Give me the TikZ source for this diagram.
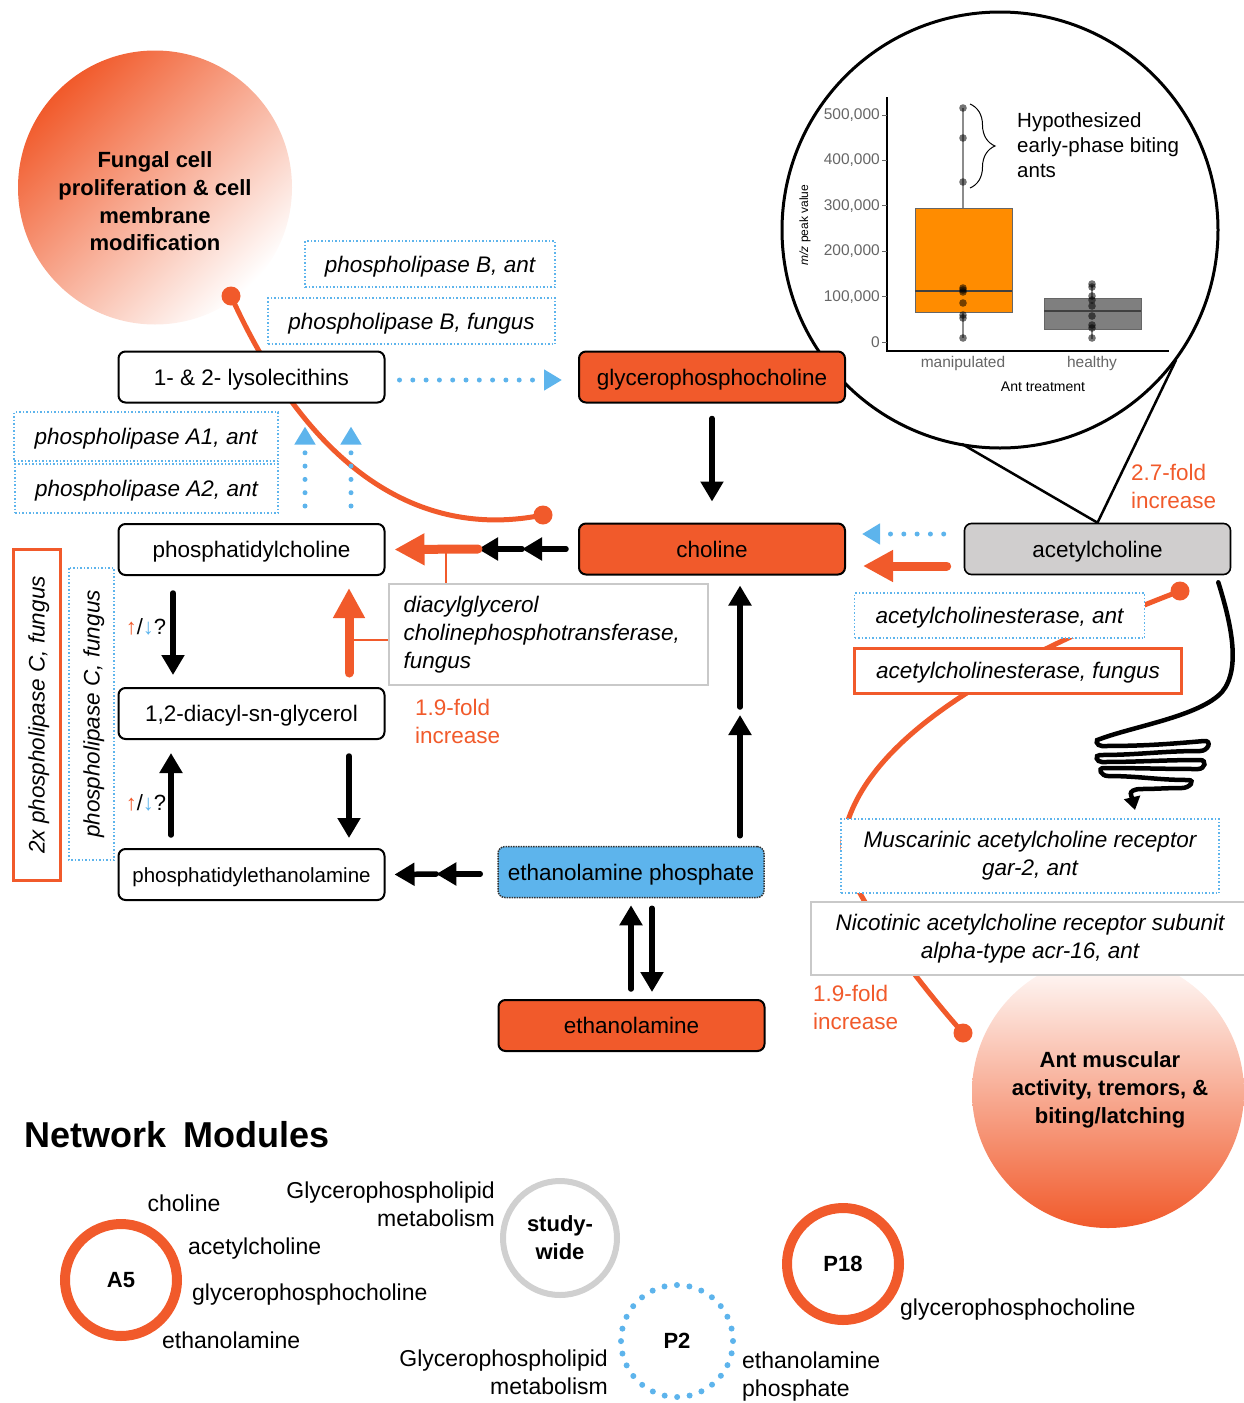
\documentclass[tikz,border=0pt]{standalone}
\usepackage{fontspec}
\setmainfont{Liberation Sans}
\usetikzlibrary{arrows.meta,calc,backgrounds,decorations.pathreplacing}

\definecolor{orng}{HTML}{F15A2B}
\definecolor{skyb}{HTML}{5DB4EC}
\definecolor{achgray}{HTML}{D0CECE}
\definecolor{framegray}{HTML}{C9C9C9}
\definecolor{ringgray}{HTML}{D0D0D0}
\definecolor{boxorange}{HTML}{FF8C00}
\definecolor{boxgrey}{HTML}{7F7F7F}
\definecolor{ticktext}{HTML}{666666}
\newcommand\fsz[2]{\fontsize{#1}{#2}\selectfont}

\tikzset{
  oneline/.style={text height=16pt, text depth=0pt},
  compound/.style={draw=black, line width=2pt, rounded corners=7pt, fill=white, oneline,
    minimum width=266pt, minimum height=51pt, inner sep=0pt, font=\fsz{22.5}{27}},
  hot/.style={compound, fill=orng},
  enzblue/.style={draw=skyb, line width=1.5pt, dash pattern=on 1.5pt off 2pt, fill=white,
    inner sep=0pt, font=\fsz{22.5}{28}\itshape},
  enzred/.style={draw=orng, line width=3pt, fill=white, inner sep=0pt, font=\fsz{22.5}{28}\itshape},
  enzgray/.style={draw=framegray, line width=2.5pt, fill=white, inner sep=0pt, font=\fsz{22.5}{28}\itshape},
  blkarrow/.style={draw=black, line width=5.5pt, line cap=round, -{Triangle[length=20pt,width=22pt]}},
  hotarrow/.style={draw=orng, line width=9pt, line cap=round, -{Triangle[length=30pt,width=30pt]}},
  dotarrow/.style={draw=skyb, line width=5pt, line cap=round, dash pattern=on 0pt off 13.3pt, -{Triangle[length=18pt,width=20pt]}},
  inhib/.style={draw=orng, line width=5pt},
  ball/.style={circle, fill=orng, minimum size=19pt, inner sep=0pt},
  foldnote/.style={text=orng, font=\fsz{22.5}{28}, align=left, anchor=west, inner sep=0pt},
  member/.style={font=\fsz{23}{28}, inner sep=0pt},
  module/.style={circle, minimum size=112pt, inner sep=0pt, font=\bfseries\fsz{22}{28}, align=center},
  ticklab/.style={text=ticktext, font=\fsz{15.5}{18}, anchor=east, inner sep=0pt},
  plotpt/.style={fill=black, fill opacity=0.55},
  squig/.style={draw=black, line width=4.5pt, line cap=round, -{Triangle[length=13pt,width=16pt]}},
  updown/.style={font=\fsz{22}{26}, inner sep=0pt},
}

\begin{document}
\begin{tikzpicture}[x=1pt,y=-1pt]
\useasboundingbox (0,0) rectangle (1244,1403);

% ---------- metabolites ----------
\node[compound] (lyso) at (251.5,377) {1- \& 2- lysolecithins};
\node[hot] (gpc) at (712,377) {glycerophosphocholine};
\node[compound] (pc) at (251.5,549.5) {phosphatidylcholine};
\node[hot] (cho) at (712,549) {choline};
\node[compound, fill=achgray, line width=1.6pt] (ach) at (1097.5,549) {acetylcholine};
\node[compound] (dag) at (251.5,713.5) {1,2-diacyl-sn-glycerol};
\node[compound, font=\fsz{20.5}{24}, text height=15pt] (pe) at (251.5,874.5) {phosphatidylethanolamine};
\node[compound, fill=skyb, draw=black!80, line width=1.5pt, dash pattern=on 1.5pt off 1pt] (ep) at (631,872) {ethanolamine phosphate};
\node[hot] (eth) at (631.5,1025.5) {ethanolamine};

% ---------- enzymes ----------
\node[enzblue, oneline, minimum width=250pt, minimum height=46pt] (plbant) at (430,264) {phospholipase B, ant};
\node[enzblue, oneline, minimum width=287pt, minimum height=46pt] (plbfun) at (411.5,321) {phospholipase B, fungus};
\node[enzblue, oneline, minimum width=264pt, minimum height=49pt] (pla1) at (146,436.5) {phospholipase A1, ant};
\node[enzblue, oneline, minimum width=263pt, minimum height=49pt] (pla2) at (146.5,488.5) {phospholipase A2, ant};
\node[enzred, oneline, rotate=90, minimum width=331pt, minimum height=47pt] (plc2) at (36.5,715) {2x phospholipase C, fungus};
\node[enzblue, oneline, rotate=90, minimum width=292pt, minimum height=45pt] (plc) at (91.5,714) {phospholipase C, fungus};
\node[enzgray, minimum width=319pt, minimum height=101pt, text width=290pt, align=left] (dcpt) at (548.5,634.5) {diacylglycerol\\cholinephosphotransferase,\\fungus};
\node[enzblue, oneline, minimum width=290pt, minimum height=45pt] (acheant) at (999.5,615.5) {acetylcholinesterase, ant};
\node[enzred, oneline, minimum width=327pt, minimum height=45pt] (achefun) at (1018,670.5) {acetylcholinesterase, fungus};
\node[enzblue, minimum width=378pt, minimum height=74pt, align=center] (musc) at (1030,856) {Muscarinic acetylcholine receptor\\gar-2, ant};
\node[enzgray, minimum width=438pt, minimum height=73pt, align=center] (nic) at (1030,938.5) {Nicotinic acetylcholine receptor subunit\\alpha-type acr-16, ant};

% ---------- inhibition end points ----------
\node[ball] (k1) at (231,296) {};
\node[ball] (k2) at (543,515) {};
\node[ball] (k3) at (1180,591) {};
\node[ball] (k4) at (963,1033) {};

% ---------- phenotype bubbles, zoom lens and long links ----------
\coordinate (lensL) at (962,444);
\coordinate (lensR) at (1176,360);
\begin{scope}[on background layer]
  \shade[top color=orng, middle color=orng!55, bottom color=white, shading angle=45] (155,187.5) circle (137pt);
  \shade[top color=white, middle color=orng!35, bottom color=orng] (1108,1092) circle (136pt);
  \draw[line width=3pt, fill=white] (1000,230) circle (218pt);
  \draw[line width=2.5pt] (lensL) -- (ach.north);
  \draw[line width=2.5pt] (lensR) -- (ach.north);
  \draw[inhib] (k1.center) .. controls (310,470) and (420,540) .. (k2.center);
  \draw[inhib] (k3.center) .. controls (1000,660) and (860,740) .. (843,840)
                           .. controls (837,880) and (923,988) .. (k4.center);
\end{scope}

\node[font=\bfseries\fsz{22}{27.7}, align=center] (fungal) at (155,201.5)
  {Fungal cell\\proliferation \& cell\\membrane\\modification};
\node[font=\bfseries\fsz{22}{28}, align=center] (antmus) at (1110,1090)
  {Ant muscular\\activity, tremors, \&\\biting/latching};

% ---------- reactions ----------
\draw[blkarrow] ($(gpc.south)+(0,15)$) -- ($(cho.north)+(0,-21)$);
\draw[dotarrow] ($(lyso.east)+(14,3)$) -- ($(gpc.west)+(-16,3)$);
\draw[dotarrow] ($(pc.north)+(53.5,-17)$) -- ($(lyso.south)+(53.5,23)$);
\draw[dotarrow] ($(pc.north)+(99.5,-17)$) -- ($(lyso.south)+(99.5,23)$);

\coordinate (c1) at ($(cho.west)+(-12,0)$);
\coordinate (c2) at ($(cho.west)+(-56,0)$);
\coordinate (c3) at ($(cho.west)+(-100,0)$);
\draw[blkarrow] (c1) -- (c2);
\draw[blkarrow] (c2) -- (c3);
\draw[hotarrow] (c3) -- ($(pc.east)+(9,0)$);

\draw[hotarrow] ($(dag.north)+(97.5,-14)$) -- ($(pc.south)+(97.5,12)$);
\coordinate (dcj) at (446,549);
\draw[orng, line width=1.3pt] (dcj) -- (dcj |- dcpt.north);
\draw[orng, line width=1.3pt] (349,640) -- ($(dcpt.west)+(0,5.5)$);

\draw[blkarrow] ($(pc.south)+(-78.5,17)$) -- ($(dag.north)+(-78.5,-12)$);
\draw[blkarrow] ($(pe.north)+(-80.5,-13)$) -- ($(dag.south)+(-80.5,13)$);
\draw[blkarrow] ($(dag.south)+(97.5,16)$) -- ($(pe.north)+(97.5,-10)$);

\node[updown] (q1) at (146,627) {\textcolor{orng}{↑}/\textcolor{skyb}{↓}?};
\node[updown] (q2) at (146,803) {\textcolor{orng}{↑}/\textcolor{skyb}{↓}?};

\coordinate (e1) at ($(ep.west)+(-17,2)$);
\coordinate (e2) at ($(ep.west)+(-61,2)$);
\draw[blkarrow] (e1) -- (e2);
\draw[blkarrow] (e2) -- ($(pe.east)+(9,0)$);

\draw[blkarrow] ($(eth.north)+(-0.5,-10)$) -- ($(ep.south)+(0,7)$);
\draw[blkarrow] ($(ep.south)+(21,10)$) -- ($(eth.north)+(20.5,-7)$);

\coordinate (mid) at (740,711);
\draw[blkarrow] ($(ep.north)+(109,-10)$) -- ($(mid)+(0,4)$);
\draw[blkarrow] ($(mid)+(0,-4)$) -- ($(cho.south)+(28,10)$);

\draw[dotarrow] ($(ach.west)+(-20,-15)$) -- ($(cho.east)+(16,-15)$);
\draw[hotarrow] ($(ach.west)+(-17,17)$) -- ($(cho.east)+(17,17)$);

% spring-shaped signal to the receptors
\coordinate (sq0) at ($(ach.south east)+(-13,7)$);
\draw[squig] (sq0) .. controls (1230,620) and (1242,668) .. (1222,692)
  .. controls (1200,716) and (1135,726) .. (1100,739)
  to[out=180,in=180,looseness=2] (1102,746)
  to[out=0,in=185] (1204,741)
  to[out=5,in=0,looseness=2] (1200,751)
  to[out=180,in=0] (1100,755)
  to[out=180,in=180,looseness=2] (1102,762)
  to[out=0,in=180] (1200,760)
  to[out=0,in=0,looseness=2] (1198,769)
  to[out=180,in=0] (1104,768)
  to[out=180,in=180,looseness=2] (1108,776)
  to[out=0,in=180] (1188,780)
  to[out=0,in=0,looseness=2] (1182,788)
  to[out=180,in=0] (1140,789)
  .. controls (1126,790) and (1132,797) .. (1135,810);

% fold changes
\node[foldnote] (fc1) at (1131,486) {2.7-fold\\increase};
\node[foldnote] (fc2) at (415,721.5) {1.9-fold\\increase};
\node[foldnote] (fc3) at (813,1007.5) {1.9-fold\\increase};

% ---------- inset box plot ----------
\draw[line width=1.3pt] (887,97) -- (887,351) -- (1169,351);
\foreach \v/\lab in {0/0,1/{100,000},2/{200,000},3/{300,000},4/{400,000},5/{500,000}} {
  \draw[ticktext, line width=0.8pt] (882,{342-45.4*\v}) -- (887,{342-45.4*\v});
  \node[ticklab] at (880,{342-45.4*\v}) {\lab};
}
\draw[black!45, line width=1.5pt] (963,108) -- (963,338);
\draw[fill=boxorange, draw=black!60, line width=0.8pt] (915,208) rectangle (1012,312);
\draw[black!75, line width=1.6pt] (915,291) -- (1012,291);
\draw[black!45, line width=1.5pt] (1092,285) -- (1092,339);
\draw[fill=boxgrey, draw=black!60, line width=0.8pt] (1044,298) rectangle (1141,329);
\draw[black!75, line width=1.6pt] (1044,311) -- (1141,311);
\foreach \y in {108,138,182,288,290,292,303,315,318,338} \fill[plotpt] (963,\y) circle (3.8pt);
\foreach \y in {284,287,296,300,306,316,325,328,338} \fill[plotpt] (1092,\y) circle (3.8pt);
\node[text=ticktext, font=\fsz{15.5}{18}] (xl1) at (963,363) {manipulated};
\node[text=ticktext, font=\fsz{15.5}{18}] (xl2) at (1092,363) {healthy};
\node[font=\fsz{14}{16}] (xt) at (1043,387) {Ant treatment};
\node[rotate=90, font=\fsz{12}{14}] (yt) at (805,225) {\textit{m/z} peak value};
\draw[line width=1pt, decorate, decoration={brace, amplitude=25pt}] (970,104) -- (970,188);
\node[anchor=west, align=left, font=\fsz{20.5}{25}, inner sep=0pt] (hyp) at (1017,145)
  {Hypothesized\\early-phase biting\\ants};

% ---------- network modules ----------
\node[anchor=west, font=\bfseries\fsz{36}{40}, inner sep=0pt] (title) at (24,1135) {Network\hspace{7pt} Modules};

\node[module, draw=orng, line width=10pt] (a5) at (121,1280) {A5};
\node[member] (m1) at (184,1203) {choline};
\node[member, anchor=west] (m2) at (188,1249) {acetylcholine};
\node[member, anchor=west] (m3) at (192,1295) {glycerophosphocholine};
\node[member, anchor=west] (m4) at (162,1340) {ethanolamine};

\node[module, draw=ringgray, line width=6pt, minimum size=114pt] (sw) at (560,1238) {study-\\wide};
\node[member, align=right, anchor=east] (m5) at (495,1204) {Glycerophospholipid\\metabolism};

\node[module, draw=skyb, line width=6pt, line cap=round, dash pattern=on 0pt off 12.57pt] (p2) at (677,1341) {P2};
\node[member, align=right, anchor=east] (m6) at (608,1372) {Glycerophospholipid\\metabolism};
\node[member, align=left, anchor=west] (m7) at (742,1377) {ethanolamine\\phosphate};

\node[module, draw=orng, line width=10pt] (p18) at (843,1264) {P18};
\node[member, anchor=west] (m8) at (900,1310) {glycerophosphocholine};

\end{tikzpicture}
\end{document}
